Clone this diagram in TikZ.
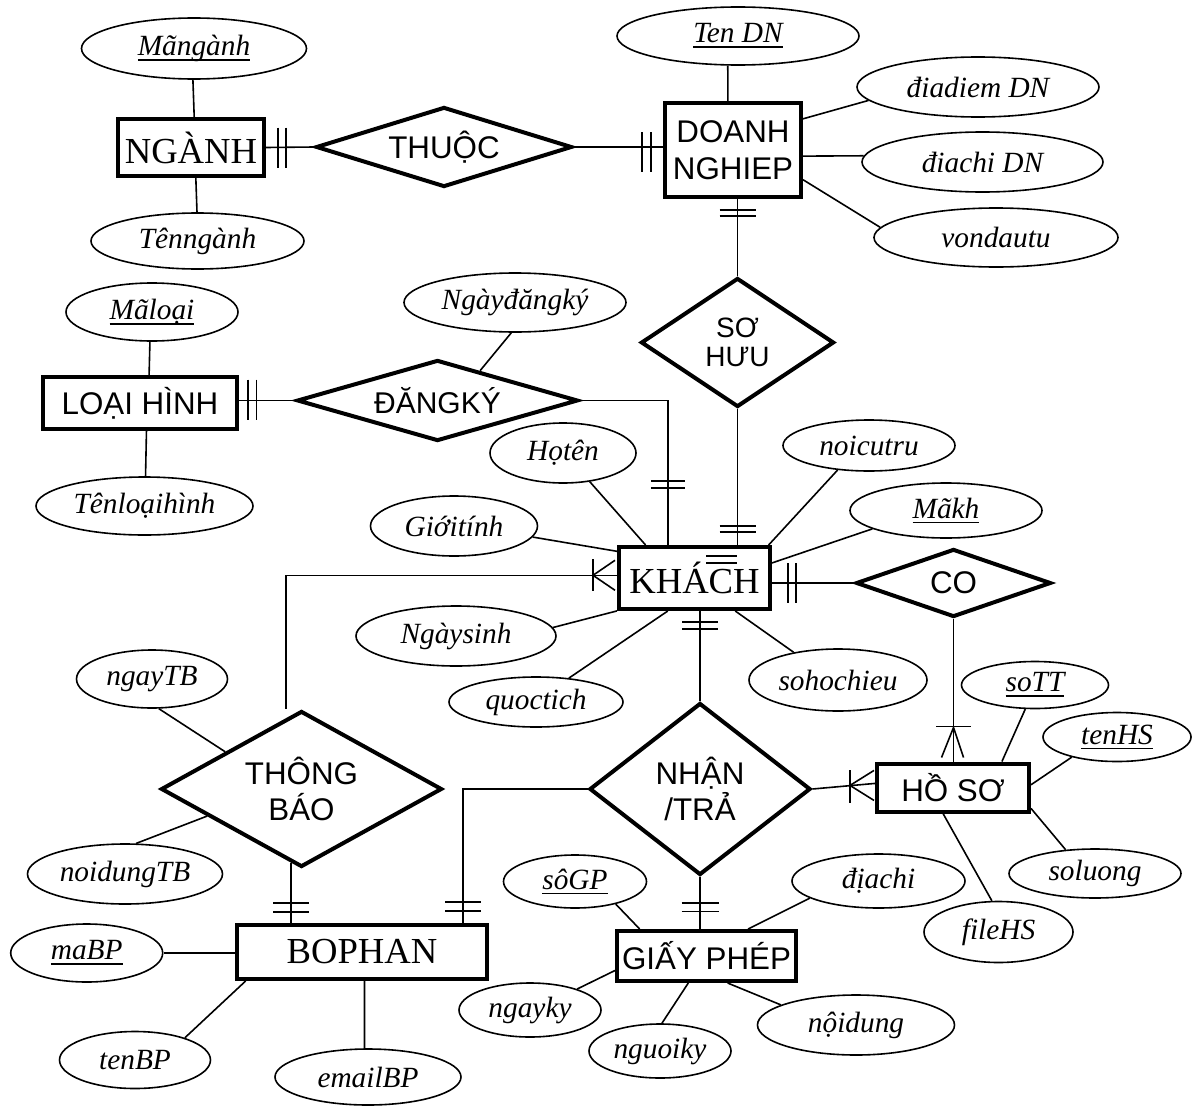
\documentclass[tikz,border=0pt]{standalone}
\usepackage{fontspec}
\setmainfont{Liberation Serif}
\newfontfamily\arialf{Liberation Sans}
\usetikzlibrary{shapes.geometric,calc}

% fonts
\newcommand\attrfont{\itshape\fontsize{22}{26}\selectfont}
\newcommand\entserif{\fontsize{27.5}{32}\selectfont}
\newcommand\entsans{\arialf\fontsize{23.5}{27.5}\selectfont}
% key attribute: underline set at a fixed depth below the baseline
\newcommand\keyu[1]{\setbox0=\hbox{#1}\rlap{\rule[-0.18em]{\wd0}{0.06em}}\box0}

\tikzset{
  ent/.style 2 args={draw, rectangle, line width=3pt, inner sep=0pt,
    minimum width={(#1-4)*0.75pt}, minimum height={(#2-4)*0.75pt},
    font=\entsans, align=center},
  rel/.style n args={3}{draw, diamond, line width=3pt, inner sep=0pt,
    shape aspect=#3,
    minimum width={(#1-4)*0.75pt}, minimum height={(#2-4)*0.75pt},
    font=\entsans, align=center},
  attr/.style 2 args={draw, ellipse, line width=1.2pt, inner sep=0pt,
    minimum width={#1*0.75pt}, minimum height={#2*0.75pt}, font=\attrfont},
  conn/.style={line width=1.2pt},
}

\begin{document}
\begin{tikzpicture}[x=0.75pt,y=-0.75pt]
\fill[white] (0,0) rectangle (1198,1106);
\useasboundingbox (0,0) rectangle (1198,1106);

% ---------- entities ----------
\node[ent={150}{61}, font=\entserif] (nganh) at (191,147.5) {NGÀNH};
\node[ent={140}{98}] (dn) at (733,150) {DOANH\\NGHIEP};
\node[ent={198}{56}] (loaihinh) at (140,403) {LOẠI HÌNH};
\node[ent={155}{66}, font=\entserif] (khach) at (694.5,578) {KHÁCH};
\node[ent={156}{52}] (hoso) at (953,787.5) {HỒ SƠ};
\node[ent={254}{58}, font=\entserif] (bophan) at (362,952) {BOPHAN};
\node[ent={183}{54}] (giayphep) at (706.5,956) {GIẤY PHÉP};

% ---------- relationships ----------
\node[rel={260}{84}{3.1}] (thuoc) at (444,147) {THUỘC};
\node[rel={197}{133}{1.48}, font=\arialf\fontsize{21}{22}\selectfont] (sohuu) at (737.5,342.5) {SƠ\\HƯU};
\node[rel={285}{85}{3.35}, font=\arialf\fontsize{22.5}{26}\selectfont] (dangky) at (437.5,400.5) {ĐĂNGKÝ};
\node[rel={199}{72}{2.76}] (co) at (953.5,583) {CO};
\node[rel={225}{176}{1.28}] (nhantra) at (700,789) {NHẬN\\/TRẢ};
\node[rel={285}{160}{1.78}, font=\arialf\fontsize{23.5}{27}\selectfont] (thongbao) at (301.5,789) {THÔNG\\BÁO};

% ---------- attributes ----------
\node[attr={225}{61}] (mangnganh) at (194,48.5) {\keyu{Mãngành}};
\node[attr={213}{56}] (tennganh) at (197.5,241) {Tênngành};
\node[attr={242}{58}] (tendn) at (738,36) {\keyu{Ten DN}};
\node[attr={242}{60}] (diadiem) at (978,87) {điadiem DN};
\node[attr={241}{60}] (diachidn) at (982.5,162) {điachi DN};
\node[attr={244}{59}] (vondautu) at (996,237.5) {vondautu};
\node[attr={172}{58}] (maloai) at (152,312) {\keyu{Mãloại}};
\node[attr={217}{58}] (tenloaihinh) at (144.5,506) {Tênloạihình};
\node[attr={222}{59}] (ngaydangky) at (515,302.5) {Ngàyđăngký};
\node[attr={146}{60}] (hoten) at (563,453) {Họtên};
\node[attr={172}{51}] (noicutru) at (869,445.5) {noicutru};
\node[attr={167}{60}] (gioitinh) at (454,526) {Giớitính};
\node[attr={192}{55}] (makh) at (946,510.5) {\keyu{Mãkh}};
\node[attr={200}{60}] (ngaysinh) at (456,636) {Ngàysinh};
\node[attr={174}{50}] (quoctich) at (536,702) {quoctich};
\node[attr={178}{62}] (sohochieu) at (838,680) {sohochieu};
\node[attr={147}{47}] (sott) at (1035,685) {\keyu{soTT}};
\node[attr={148}{49}] (tenhs) at (1117,737) {\keyu{tenHS}};
\node[attr={172}{49}] (soluong) at (1095,873.5) {soluong};
\node[attr={149}{61}] (filehs) at (998.5,932) {fileHS};
\node[attr={151}{58}] (ngaytb) at (152,679) {ngayTB};
\node[attr={195}{60}] (noidungtb) at (125,874) {noidungTB};
\node[attr={152}{58}] (mabp) at (86.7,953) {\keyu{maBP}};
\node[attr={151}{57}] (tenbp) at (135,1060) {tenBP};
\node[attr={186}{56}] (emailbp) at (368,1077) {emailBP};
\node[attr={143}{53}] (sogp) at (575,881.5) {\keyu{sôGP}};
\node[attr={173}{54}] (diachi) at (878.5,881) {địachi};
\node[attr={142}{54}] (ngayky) at (530,1010) {ngayky};
\node[attr={142}{54}] (nguoiky) at (660,1051) {nguoiky};
\node[attr={197}{60}] (noidung) at (856,1025) {nộidung};

% ---------- attribute links ----------
\draw[conn] (mangnganh.268) -- (nganh.84);
\draw[conn] (nganh.279) -- (tennganh.91);
\draw[conn] (tendn.251) -- (dn.96);
\draw[conn] (dn.24) -- (diadiem.187);
\draw[conn] (dn.355) -- (diachidn.177);
\draw[conn] (dn.337) -- (vondautu.175);
\draw[conn] (maloai.266) -- (loaihinh.72);
\draw[conn] (loaihinh.283) -- (tenloaihinh.88);
\draw[conn] (ngaydangky.263) -- (dangky.35);
\draw[conn] (hoten.313) -- (khach.146);
\draw[conn] (noicutru.218) -- (khach.24);
\draw[conn] (gioitinh.352) -- (khach.161);
\draw[conn] (makh.194) -- (khach.11);
\draw[conn] (ngaysinh.5) -- (khach.203);
\draw[conn] (quoctich.36) -- (khach.231);
\draw[conn] (sohochieu.148) -- (khach.321);
\draw[conn] (sott.248) -- (hoso.28);
\draw[conn] (tenhs.204) -- (hoso.2);
\draw[conn] (hoso.345) -- (soluong.141);
\draw[conn] (hoso.249) -- (filehs.102);
\draw[conn] (ngaytb.283) -- (thongbao.154);
\draw[conn] (noidungtb.70) -- (thongbao.196);
\draw[conn] (mabp.east) -- (mabp.east -| bophan.west);
\draw[conn] (tenbp.24) -- (bophan.194);
\draw[conn] (bophan.275) -- (emailbp.97);
\draw[conn] (sogp.331) -- (giayphep.158);
\draw[conn] (diachi.194) -- (giayphep.33);
\draw[conn] (ngayky.24) -- (giayphep.189);
\draw[conn] (nguoiky.86) -- (giayphep.236);
\draw[conn] (noidung.165) -- (giayphep.308);

% ---------- relationship links with cardinality marks ----------
% NGANH -- THUOC
\draw[conn] (nganh.east) -- (thuoc.west);
\draw[conn] ($(nganh.east)+(12,-20)$) -- ++(0,40);
\draw[conn] ($(nganh.east)+(20,-20)$) -- ++(0,40);
% THUOC -- DOANH NGHIEP
\draw[conn] (thuoc.east) -- (thuoc.east -| dn.west);
\draw[conn] ($(thuoc.east -| dn.west)+(-21,-15)$) -- ++(0,40);
\draw[conn] ($(thuoc.east -| dn.west)+(-12,-15)$) -- ++(0,40);
% DOANH NGHIEP -- SO HUU
\draw[conn] (sohuu.north |- dn.south) -- (sohuu.north);
\draw[conn] ($(sohuu.north |- dn.south)+(-18,11)$) -- ++(36,0);
\draw[conn] ($(sohuu.north |- dn.south)+(-18,17)$) -- ++(36,0);
% SO HUU -- KHACH
\draw[conn] (sohuu.south) -- (sohuu.south |- khach.north);
\draw[conn] ($(sohuu.south |- khach.north)+(-18,-19)$) -- ++(36,0);
\draw[conn] ($(sohuu.south |- khach.north)+(-18,-13)$) -- ++(36,0);
\draw[conn] ($(khach.center)+(11.5,-22)$) -- ++(31,0);
\draw[conn] ($(khach.center)+(11.5,-15)$) -- ++(31,0);
% LOAI HINH -- DANGKY
\draw[conn] (dangky.west -| loaihinh.east) -- (dangky.west);
\draw[conn] ($(dangky.west -| loaihinh.east)+(9,-21)$) -- ++(0,40);
\draw[conn] ($(dangky.west -| loaihinh.east)+(17.5,-21)$) -- ++(0,40);
% DANGKY -- KHACH
\draw[conn] (dangky.east) -| (khach.129);
\draw[conn] ($(khach.129)+(-17,-64)$) -- ++(34,0);
\draw[conn] ($(khach.129)+(-17,-57)$) -- ++(34,0);
% KHACH -- THONG BAO (many on KHACH side)
\draw[conn] (khach.178) -| ($(thongbao.north)+(-15.5,0)$);
\draw[conn] ($(khach.178)+(-24,-16)$) -- ++(0,32);
\draw[conn] ($(khach.178)+(-24,0)$) -- ++(22,-15);
\draw[conn] ($(khach.178)+(-24,0)$) -- ++(22,15);
% KHACH -- CO
\draw[conn] (co.west -| khach.east) -- (co.west);
\draw[conn] ($(co.west -| khach.east)+(16,-20)$) -- ++(0,40);
\draw[conn] ($(co.west -| khach.east)+(24,-20)$) -- ++(0,40);
% CO -- HO SO (many on HO SO side)
\draw[conn] (co.south) -- (co.south |- hoso.north);
\draw[conn] ($(co.south |- hoso.north)+(-17.5,-35)$) -- ++(35,0);
\draw[conn] ($(co.south |- hoso.north)+(0,-34)$) -- ++(-12,30);
\draw[conn] ($(co.south |- hoso.north)+(0,-34)$) -- ++(10,30);
% NHAN/TRA -- HO SO (many on HO SO side)
\draw[conn] (nhantra.east) -- (hoso.177);
\draw[conn] ($(hoso.177)+(-25,-13)$) -- ++(0,33);
\draw[conn] ($(hoso.177)+(-25,2)$) -- ($(hoso.177)+(-1,-13)$);
\draw[conn] ($(hoso.177)+(-25,2)$) -- ($(hoso.177)+(-1,17)$);
% KHACH -- NHAN/TRA
\draw[conn] (nhantra.north |- khach.south) -- (nhantra.north);
\draw[conn] ($(nhantra.north |- khach.south)+(-18,11)$) -- ++(36,0);
\draw[conn] ($(nhantra.north |- khach.south)+(-18,18)$) -- ++(36,0);
% NHAN/TRA -- BOPHAN
\draw[conn] (nhantra.west) -| (bophan.16);
\draw[conn] ($(bophan.16)+(-18,-21)$) -- ++(36,0);
\draw[conn] ($(bophan.16)+(-18,-12)$) -- ++(36,0);
% THONG BAO -- BOPHAN
\draw[conn] (thongbao.262) -- (thongbao.262 |- bophan.north);
\draw[conn] ($(thongbao.262 |- bophan.north)+(-18,-20)$) -- ++(36,0);
\draw[conn] ($(thongbao.262 |- bophan.north)+(-18,-11)$) -- ++(36,0);
% NHAN/TRA -- GIAY PHEP
\draw[conn] (nhantra.south) -- (nhantra.south |- giayphep.north);
\draw[conn] ($(nhantra.south |- giayphep.north)+(-18.5,-26)$) -- ++(37,0);
\draw[conn] ($(nhantra.south |- giayphep.north)+(-18.5,-17.5)$) -- ++(37,0);
\end{tikzpicture}
\end{document}
